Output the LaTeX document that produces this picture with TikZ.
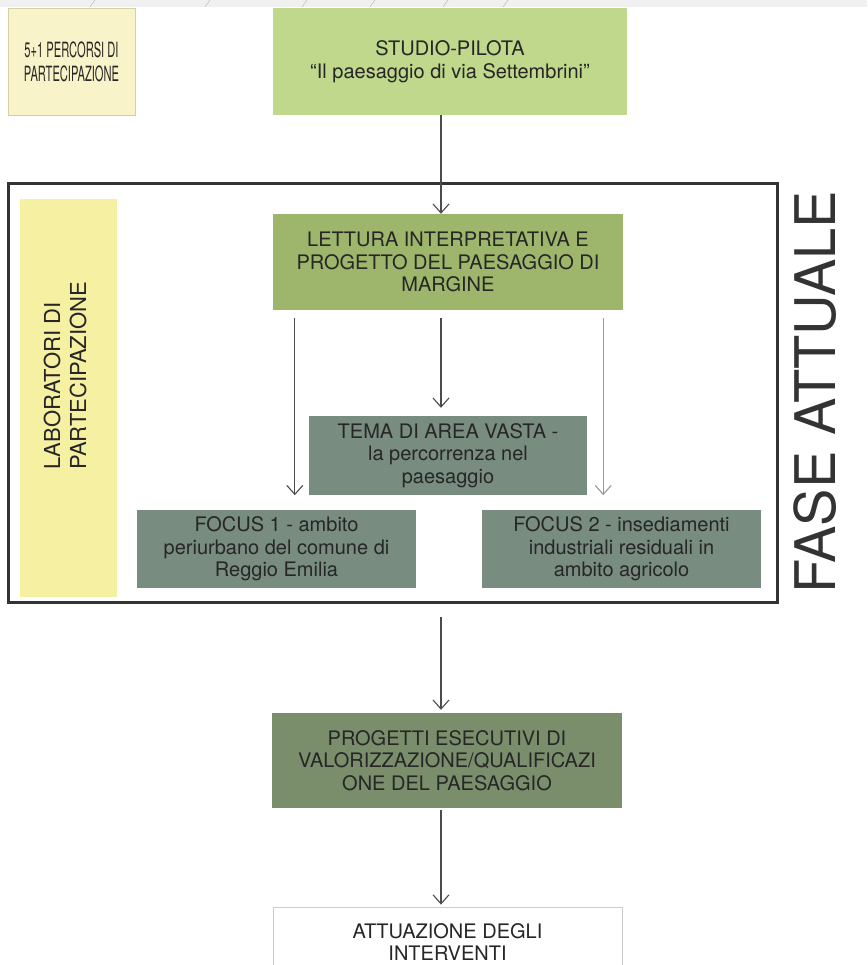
\documentclass[tikz,border=0pt]{standalone}
\usepackage{fontspec}
\setmainfont{TeX Gyre Heros}
\newfontfamily\strettofont[FakeStretch=0.53]{TeX Gyre Heros}
\usetikzlibrary{arrows.meta}

\definecolor{crema}{HTML}{F8F3C9}
\definecolor{verdechiaro}{HTML}{BFD88C}
\definecolor{verdeoliva}{HTML}{9EB66B}
\definecolor{giallolab}{HTML}{F6F1A2}
\definecolor{grigioverde}{HTML}{788C80}
\definecolor{verdescuro}{HTML}{7A8E6C}

\begin{document}
\begin{tikzpicture}[x=1pt,y=-1pt,
    box/.style ={rectangle, inner sep=0pt, align=center, text=black!85,
                 font=\fontsize{20}{22.5}\selectfont},
    freccia/.style ={-{Straight Barb[length=9pt,width=16pt]}, line width=1.1pt, draw=black!70}]
   \clip (0,0) rectangle (867,965);
   \fill[white] (0,0) rectangle (867,965);
   \fill[black!6] (0,0) rectangle (867,7);
   \foreach \x in {90,205,302,370,443,503}
      \draw[black!30] (\x,7) -- (\x+5,0);
   \node[box, fill=crema, draw=crema!85!black, line width=0.4pt, minimum width=127pt, minimum height=107pt,
         font=\strettofont\fontsize{21}{24}\selectfont] (percorsi) at (71.5,61.5) {5+1 PERCORSI DI\\PARTECIPAZIONE};
   \node[box, fill=verdechiaro, minimum width=354pt, minimum height=107pt] (studio) at (450,61.5) {STUDIO-PILOTA\\``Il paesaggio di via Settembrini''};
   \node[draw=black!80, line width=3pt, inner sep=0pt, minimum width=769pt, minimum height=418pt] (cornice) at (392.5,393) {};
   \node[fill=giallolab, inner sep=0pt, minimum width=97pt, minimum height=398pt] (lab) at (68.5,398) {};
   \node[rotate=90, anchor=west, align=left, inner sep=0pt, text=black!85, font=\fontsize{22}{26}\selectfont] (labtesto) at (65,470) {LABORATORI DI\\PARTECIPAZIONE};
   \node[box, fill=verdeoliva, minimum width=350pt, minimum height=96pt] (lettura) at (448,262) {LETTURA INTERPRETATIVA E\\PROGETTO DEL PAESAGGIO DI\\MARGINE};
   \node[box, fill=grigioverde, minimum width=278pt, minimum height=79pt] (tema) at (448,455.5) {TEMA DI AREA VASTA -\\la percorrenza nel\\paesaggio};
   \node[box, fill=grigioverde, minimum width=279pt, minimum height=78pt] (focusuno) at (276.5,549) {FOCUS 1 - ambito\\periurbano del comune di\\Reggio Emilia};
   \node[box, fill=grigioverde, minimum width=279pt, minimum height=78pt] (focusdue) at (621.5,549) {FOCUS 2 - insediamenti\\industriali residuali in\\ambito agricolo};
   \node[rotate=90, inner sep=0pt, text=black!80, font=\fontsize{56}{56}\selectfont] (fase) at (815,392.5) {FASE ATTUALE};
   \node[box, fill=verdescuro, minimum width=350pt, minimum height=95pt] (progetti) at (447,760.5) {PROGETTI ESECUTIVI DI\\VALORIZZAZIONE/QUALIFICAZI\\ONE DEL PAESAGGIO};
   \node[box, fill=white, draw=black!20, line width=0.8pt, minimum width=349pt, minimum height=70pt] (attuazione) at (447.5,942) {ATTUAZIONE DEGLI\\INTERVENTI};
   \coordinate (sx) at ([xshift=22pt]lettura.south west);
   \coordinate (cx) at ([xshift=-7pt]lettura.south);
   \coordinate (dx) at ([xshift=-20pt]lettura.south east);
   \coordinate (px) at ([xshift=-6pt]progetti.north);
   \draw[freccia] ([xshift=-9pt]studio.south) -- ([xshift=-7pt]lettura.north);
   \draw[freccia, shorten <=8pt] (sx) -- (sx |- tema.south);
   \draw[freccia, shorten <=8pt, shorten >=8pt] (cx) -- ([xshift=-7pt]tema.north);
   \draw[freccia, shorten <=8pt, draw=black!40] (dx) -- (dx |- tema.south);
   \draw[freccia, shorten <=13pt, shorten >=3pt] (px |- cornice.south) -- (px);
   \draw[freccia, shorten <=2pt, shorten >=2pt] ([xshift=-6pt]progetti.south) -- ([xshift=-6.5pt]attuazione.north);
 \end{tikzpicture}
\end{document}
